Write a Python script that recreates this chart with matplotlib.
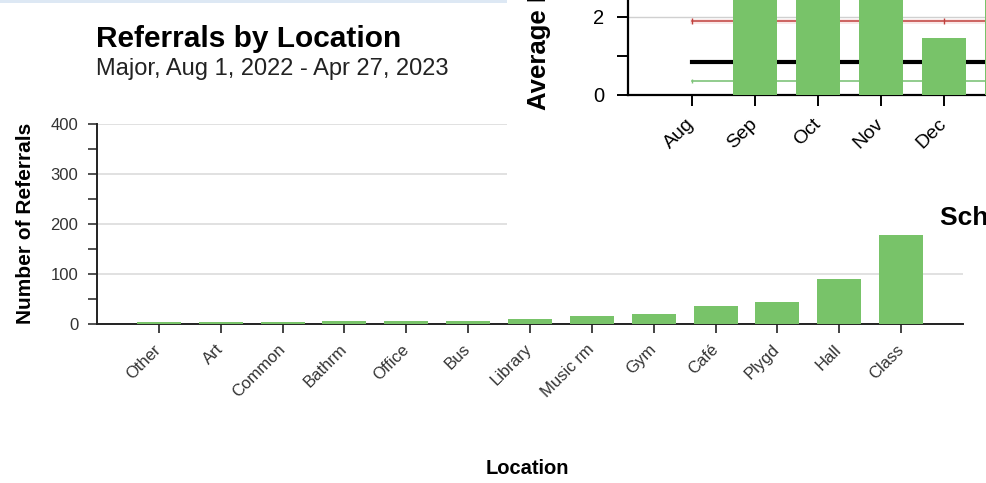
import matplotlib
matplotlib.use("Agg")
import matplotlib.pyplot as plt
from matplotlib.patches import Rectangle

plt.rcParams["font.family"] = ["Liberation Sans", "DejaVu Sans"]

# ---- Referrals by location ----
locations = ["Other", "Art", "Common", "Bathrm", "Office", "Bus", "Library",
             "Music rm", "Gym", "Café", "Plygd", "Hall", "Class"]
referrals = [4, 4, 4, 7, 7, 7, 11, 16, 20, 36, 45, 90, 178]
y_ticks = [0, 100, 200, 300, 400]

# ---- Average referrals per day by month (partially visible panel) ----
months = ["Aug", "Sep", "Oct", "Nov", "Dec", "Jan"]
avg_per_day = [0.0, 3.0, 3.3, 3.1, 1.46, 2.8]
avg_y_ticks = [0, 2]
red_level = 1.9
black_level = 0.84
green_level = 0.37

W, H = 987, 483
BAR = "#78c369"
fig = plt.figure(figsize=(W / 100, H / 100), dpi=100)


def fx(px):
    return px / W


def fy(py):
    return 1 - py / H


# thin band along the top edge
fig.patches.append(Rectangle((0, fy(3)), fx(507), 3 / H, transform=fig.transFigure,
                             facecolor="#dde8f4", edgecolor="none", zorder=0))

ax = fig.add_axes([fx(97), fy(324), fx(963 - 97), (324 - 124) / H])
x = list(range(len(locations)))
ax.bar(x, referrals, width=0.71, color=BAR, zorder=3)
ax.set_xticks(x)
ax.set_xticklabels(locations, rotation=45, ha="right", va="center",
                   rotation_mode="anchor", fontsize=12, color="#333333")
ax.set_yticks(y_ticks)
ax.set_yticks(range(50, 400, 100), minor=True)
ax.set_xlim(-1, len(locations))
ax.set_ylim(0, 400)
ax.yaxis.grid(True, color="#d9d9d9", linewidth=1.1, zorder=0)
ax.set_axisbelow(True)
for s in ("top", "right"):
    ax.spines[s].set_visible(False)
for s in ("left", "bottom"):
    ax.spines[s].set_color("#222222")
    ax.spines[s].set_linewidth(1.4)
ax.tick_params(axis="y", which="both", length=6.5, width=1.2, color="#333333",
               labelsize=12, labelcolor="#333333", pad=7)
ax.tick_params(axis="x", length=6.5, width=1.2, color="#222222", pad=10)

fig.text(fx(26), fy(223), "Number of Referrals", fontsize=15, fontweight="bold",
         rotation=90, ha="center", va="center")
fig.text(fx(527), fy(468), "Location", fontsize=14.5, fontweight="bold",
         ha="center", va="center")
fig.text(fx(96), fy(47), "Referrals by Location", fontsize=21.5, fontweight="bold",
         ha="left", va="baseline")
fig.text(fx(96), fy(75), "Major, Aug 1, 2022 - Apr 27, 2023", fontsize=17,
         ha="left", va="baseline", color="#222222")

# ---- overlapping panel in the upper right ----
bg = fig.add_axes([fx(507), fy(230), fx(W - 507), 230 / H], zorder=5)
bg.set_facecolor("white")
bg.set_xticks([])
bg.set_yticks([])
for s in bg.spines.values():
    s.set_visible(False)

ov = fig.add_axes([fx(628), fy(95), fx(W - 628), 95 / H], zorder=6)
ov.patch.set_alpha(0)
mi = list(range(len(months)))
ov.axhline(2, color="#d0d0d0", linewidth=1, zorder=1)
ov.plot(mi, [red_level] * len(mi), color="#f4c4c4", linewidth=3.5, alpha=0.4, zorder=1)
ov.plot(mi, [red_level] * len(mi), color="#c0403d", linewidth=1.1, marker="|",
        markersize=4, zorder=2)
ov.plot(mi, [black_level] * len(mi), color="black", linewidth=3, zorder=2)
ov.plot(mi, [green_level] * len(mi), color="#7fc37a", linewidth=1.2, marker="|",
        markersize=3, zorder=2)
ov.bar(mi, avg_per_day, width=0.71, color=BAR, zorder=3)
ov.set_yticks(avg_y_ticks)
ov.set_yticks([1], minor=True)
ov.set_xticks(mi)
ov.set_xticklabels(months, rotation=45, ha="right", va="center",
                   rotation_mode="anchor", fontsize=14)
ov.set_xlim(-1.016, (W - 692) / 63)
ov.set_ylim(0, 95 / 39)
for s in ("top", "right"):
    ov.spines[s].set_visible(False)
for s in ("left", "bottom"):
    ov.spines[s].set_linewidth(1.6)
ov.tick_params(axis="y", which="both", length=8, width=1.4, labelsize=14.5, pad=9)
ov.tick_params(axis="x", length=8, width=1.4, pad=11)
fig.text(fx(539), fy(110), "Average Referrals per Day", fontsize=18.5, fontweight="bold",
         rotation=90, rotation_mode="anchor", ha="left", va="center", zorder=7)
fig.text(fx(940), fy(225), "School-wide Referrals", fontsize=19, fontweight="bold",
         ha="left", va="baseline", zorder=7)

fig.savefig("out.png", dpi=100, facecolor="white")
